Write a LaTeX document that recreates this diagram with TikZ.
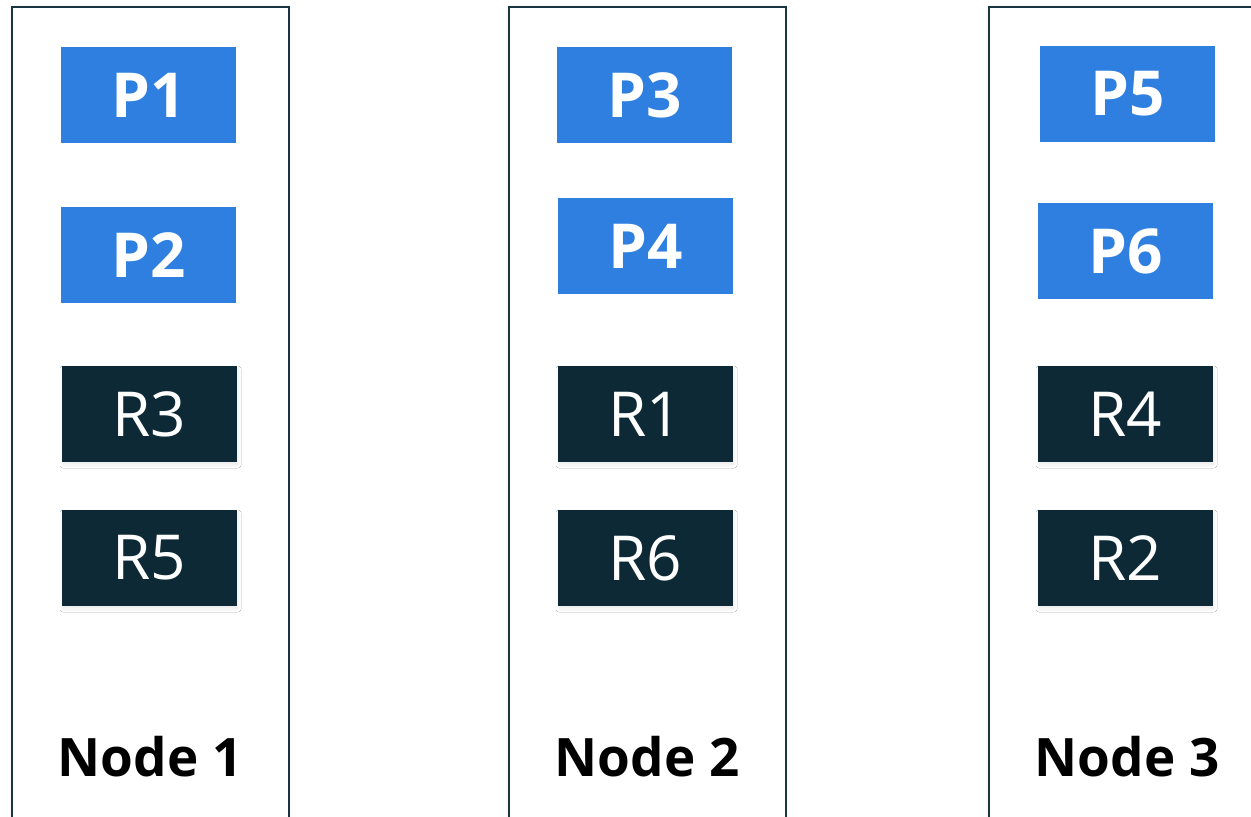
\documentclass[tikz,border=0pt]{standalone}
\usepackage{fontspec}
\setmainfont{Open Sans}
\usetikzlibrary{shadows.blur}
\definecolor{pblue}{HTML}{2F7FE0}
\definecolor{rdark}{HTML}{0D2936}
\definecolor{frame}{HTML}{1B3441}
\tikzset{
  x=1pt, y=-1pt,
  column/.style={draw=frame, line width=1.5pt, fill=white,
    blur shadow={shadow xshift=0pt, shadow yshift=0pt, shadow blur radius=4pt,
      shadow opacity=8, shadow blur steps=5}},
  primary/.style={fill=pblue, text=white, font=\fontsize{62}{62}\selectfont\bfseries,
    minimum width=175pt, minimum height=96pt, inner sep=0pt},
  replica/.style={fill=rdark, text=white, font=\fontsize{62}{62}\selectfont,
    minimum width=175pt, minimum height=96pt, inner sep=0pt,
    blur shadow={shadow xshift=1pt, shadow yshift=-3pt, shadow blur radius=3pt,
      shadow opacity=8, shadow blur steps=8}},
  hostlabel/.style={font=\fontsize{53}{53}\selectfont\bfseries, text=black, inner sep=0pt}
}
\begin{document}
\begin{tikzpicture}
\useasboundingbox (0,0) rectangle (1251,817);
\begin{scope}
\clip (0,0) rectangle (1251,817);
% host columns
\node[column, minimum width=277pt, minimum height=840pt, anchor=north west, inner sep=0pt] (c1) at (11,6) {};
\node[column, minimum width=277pt, minimum height=840pt, anchor=north west, inner sep=0pt] (c2) at (508,6) {};
\node[column, minimum width=277pt, minimum height=840pt, anchor=north west, inner sep=0pt] (c3) at (988,6) {};
\end{scope}
% Node 1
\node[primary] (p1) at (148.5,95) {P1};
\node[primary] (p2) at (148.5,255) {P2};
\node[replica] (r3) at (149.5,414) {R3};
\node[replica] (r5) at (149.5,558) {R5};
\node[hostlabel] (h1) at (150,757) {Node 1};
% Node 2
\node[primary] (p3) at (644.5,95) {P3};
\node[primary] (p4) at (645.5,246) {P4};
\node[replica] (r1) at (645.5,414) {R1};
\node[replica] (r6) at (645.5,558) {R6};
\node[hostlabel] (h2) at (647,757) {Node 2};
% Node 3
\node[primary] (p5) at (1127.5,94) {P5};
\node[primary] (p6) at (1125.5,251) {P6};
\node[replica] (r4) at (1125.5,414) {R4};
\node[replica] (r2) at (1125.5,558) {R2};
\node[hostlabel] (h3) at (1127,757) {Node 3};
\end{tikzpicture}
\end{document}
